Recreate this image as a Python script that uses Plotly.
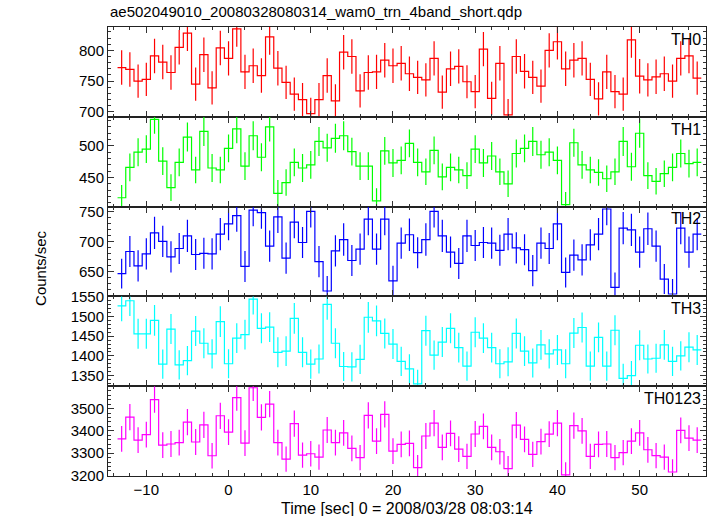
import plotly.graph_objects as go

# ---------------- data (1-s bins, centres in seconds) ----------------
time_sec = list(range(-13, 58))
bin_width = 1.0

TH0 = [772, 769, 750, 753, 791, 781, 764, 805, 828, 745, 793, 739, 804, 787, 835, 765, 775, 759,
       822, 771, 748, 729, 720, 697, 720, 759, 718, 797, 790, 734, 764, 765, 784, 775, 779, 762,
       756, 752, 787, 732, 770, 774, 749, 733, 802, 722, 779, 695, 790, 766, 756, 742, 800, 814,
       770, 784, 787, 753, 721, 765, 733, 729, 817, 758, 752, 757, 762, 750, 787, 791, 755]
TH0_err = [28, 28, 27, 27, 28, 28, 28, 28, 29, 27, 28, 27, 28, 28, 29, 28, 28, 28,
           29, 28, 27, 27, 27, 26, 27, 28, 27, 28, 28, 27, 28, 28, 28, 28, 28, 28,
           27, 27, 28, 27, 28, 28, 27, 27, 28, 27, 28, 26, 28, 28, 27, 27, 28, 29,
           28, 28, 28, 27, 27, 28, 27, 27, 29, 28, 27, 28, 28, 27, 28, 28, 27]

TH1 = [418, 466, 490, 495, 542, 476, 434, 474, 514, 462, 523, 465, 462, 496, 527, 468, 516, 482,
       530, 425, 442, 474, 465, 470, 507, 497, 512, 516, 491, 468, 468, 413, 492, 473, 477, 504,
       474, 459, 493, 451, 466, 462, 453, 495, 473, 484, 459, 440, 488, 496, 507, 486, 490, 477,
       407, 505, 470, 462, 458, 448, 459, 507, 467, 520, 453, 444, 456, 466, 488, 472, 474]
TH1_err = [20, 22, 22, 22, 23, 22, 21, 22, 23, 21, 23, 22, 21, 22, 23, 22, 23, 22,
           23, 21, 21, 22, 22, 22, 23, 22, 23, 23, 22, 22, 22, 20, 22, 22, 22, 22,
           22, 21, 22, 21, 22, 21, 21, 22, 22, 22, 21, 21, 22, 22, 23, 22, 22, 22,
           20, 22, 22, 21, 21, 21, 21, 23, 22, 23, 21, 21, 21, 22, 22, 22, 22]

TH2 = [646, 683, 659, 679, 714, 700, 674, 688, 709, 678, 680, 679, 712, 729, 743, 658, 752, 748,
       692, 741, 672, 732, 698, 750, 666, 617, 684, 703, 668, 687, 737, 687, 737, 634, 697, 711,
       681, 703, 750, 709, 682, 663, 709, 693, 698, 697, 685, 712, 689, 686, 651, 697, 688, 729,
       648, 677, 669, 694, 712, 754, 623, 722, 719, 682, 721, 692, 637, 612, 722, 682, 712]
TH2_err = [25, 26, 26, 26, 27, 26, 26, 26, 27, 26, 26, 26, 27, 27, 27, 26, 27, 27,
           26, 27, 26, 27, 26, 27, 26, 25, 26, 27, 26, 26, 27, 26, 27, 25, 26, 27,
           26, 27, 27, 27, 26, 26, 27, 26, 26, 26, 26, 27, 26, 26, 26, 26, 26, 27,
           25, 26, 26, 26, 27, 27, 25, 27, 27, 26, 27, 26, 25, 25, 27, 26, 27]

TH3 = [1527, 1540, 1456, 1456, 1490, 1379, 1468, 1377, 1388, 1463, 1432, 1405, 1487, 1380, 1445,
       1454, 1544, 1470, 1473, 1409, 1412, 1495, 1409, 1379, 1392, 1531, 1432, 1373, 1372, 1391,
       1498, 1489, 1457, 1430, 1386, 1367, 1329, 1464, 1402, 1435, 1470, 1421, 1374, 1460, 1445,
       1421, 1380, 1385, 1457, 1412, 1382, 1428, 1405, 1415, 1380, 1458, 1472, 1374, 1447, 1374,
       1465, 1343, 1350, 1427, 1392, 1394, 1428, 1386, 1400, 1422, 1415]
TH3_err = [39, 39, 38, 38, 39, 37, 38, 37, 37, 38, 38, 37, 39, 37, 38,
           38, 39, 38, 38, 38, 38, 39, 38, 37, 37, 39, 38, 37, 37, 37,
           39, 39, 38, 38, 37, 37, 36, 38, 37, 38, 38, 38, 37, 38, 38,
           38, 37, 37, 38, 38, 37, 38, 37, 38, 37, 38, 38, 37, 38, 37,
           38, 37, 37, 38, 37, 37, 38, 37, 37, 38, 38]

TH0123 = [3364, 3462, 3358, 3383, 3541, 3336, 3341, 3347, 3439, 3350, 3427, 3288, 3468, 3394, 3550,
          3345, 3594, 3461, 3520, 3347, 3273, 3433, 3291, 3297, 3282, 3404, 3347, 3391, 3321, 3280,
          3470, 3354, 3474, 3309, 3339, 3344, 3235, 3377, 3435, 3326, 3389, 3318, 3285, 3386, 3420,
          3326, 3306, 3230, 3426, 3362, 3294, 3352, 3385, 3435, 3202, 3424, 3400, 3285, 3339, 3341,
          3280, 3302, 3354, 3391, 3315, 3289, 3282, 3215, 3402, 3367, 3358]
TH0123_err = [58, 59, 58, 58, 60, 58, 58, 58, 59, 58, 59, 57, 59, 58, 60,
              58, 60, 59, 59, 58, 57, 59, 57, 57, 57, 58, 58, 58, 58, 57,
              59, 58, 59, 58, 58, 58, 57, 58, 59, 58, 58, 58, 57, 58, 58,
              58, 57, 57, 59, 58, 57, 58, 58, 59, 57, 59, 58, 57, 58, 58,
              57, 57, 58, 58, 58, 57, 57, 57, 58, 58, 58]

panel_names = ["TH0", "TH1", "TH2", "TH3", "TH0123"]
panel_values = [TH0, TH1, TH2, TH3, TH0123]
panel_errors = [TH0_err, TH1_err, TH2_err, TH3_err, TH0123_err]
panel_colors = ["#ff0000", "#00ff00", "#0000ff", "#00ffff", "#ff00ff"]
y_ranges = [[692, 838], [404, 546], [608, 758], [1323, 1551], [3197, 3601]]
y_ticks = [[700, 750, 800], [450, 500], [650, 700, 750], [1350, 1400, 1450, 1500, 1550],
           [3200, 3300, 3400, 3500]]
y_minor = [10, 10, 10, 10, 20]
x_range = [-14.66, 58.07]

title_text = "ae502049010_20080328080314_wam0_trn_4band_short.qdp"
x_title = "Time [sec] 0 = 2008/03/28 08:03:14"
y_title = "Counts/sec"

FONT = "Liberation Sans, Arial, Helvetica, sans-serif"

# ---------------- figure ----------------
fig = go.Figure()
n = len(panel_names)
h = 1.0 / n
layout = {}
for i in range(n):
    k = i + 1
    xs = "x" if k == 1 else f"x{k}"
    ys = "y" if k == 1 else f"y{k}"
    vals = panel_values[i]
    col = panel_colors[i]
    # step histogram over bin edges
    edges = [t - bin_width / 2 for t in time_sec] + [time_sec[-1] + bin_width / 2]
    fig.add_trace(go.Scatter(x=edges, y=vals + [vals[-1]], mode="lines",
                             line=dict(shape="hv", color=col, width=1.2),
                             xaxis=xs, yaxis=ys, showlegend=False, hoverinfo="skip"))
    fig.add_trace(go.Scatter(x=time_sec, y=vals, mode="markers",
                             marker=dict(size=1, color=col),
                             error_y=dict(type="data", array=panel_errors[i], width=0,
                                          thickness=1.2, color=col),
                             xaxis=xs, yaxis=ys, showlegend=False, hoverinfo="skip"))
    top = 1 - i * h
    bot = 1 - (i + 1) * h
    xa = dict(domain=[0, 1], anchor=ys, range=x_range, showgrid=False, zeroline=False,
              showline=True, linecolor="#222", linewidth=1, mirror="allticks",
              ticks="inside", ticklen=6, tickwidth=1.2, tickcolor="#333",
              tick0=0, dtick=10, showticklabels=(k == n),
              minor=dict(dtick=2, ticklen=3, tickwidth=1, tickcolor="#333", ticks="inside"),
              tickfont=dict(family=FONT, size=15, color="black"))
    if k > 1:
        xa["matches"] = "x"
    ya = dict(domain=[bot, top], anchor=xs, range=y_ranges[i], showgrid=False, zeroline=False,
              showline=True, linecolor="#222", linewidth=1, mirror="allticks",
              ticks="inside", ticklen=6, tickwidth=1.2, tickcolor="#333",
              tickvals=y_ticks[i],
              minor=dict(dtick=y_minor[i], tick0=0, ticklen=3, tickwidth=1, tickcolor="#333",
                         ticks="inside"),
              tickfont=dict(family=FONT, size=15, color="black"))
    layout["xaxis" if k == 1 else f"xaxis{k}"] = xa
    layout["yaxis" if k == 1 else f"yaxis{k}"] = ya

annotations = []
for i in range(n):
    k = i + 1
    annotations.append(dict(text=panel_names[i],
                            xref=("x" if k == 1 else f"x{k}") + " domain",
                            yref=("y" if k == 1 else f"y{k}") + " domain",
                            x=0.995, y=0.98, xanchor="right", yanchor="top", showarrow=False,
                            font=dict(family=FONT, size=16, color="black")))
annotations.append(dict(text=title_text, xref="paper", yref="paper", x=0, y=1.035,
                        xanchor="left", yanchor="middle", showarrow=False,
                        font=dict(family=FONT, size=15, color="black")))
annotations.append(dict(text=x_title, xref="paper", yref="paper", x=0.5, y=-0.072,
                        xanchor="center", yanchor="middle", showarrow=False,
                        font=dict(family=FONT, size=16, color="black")))
annotations.append(dict(text=y_title, xref="paper", yref="paper", x=-0.114, y=0.463,
                        xanchor="center", yanchor="middle", textangle=-90, showarrow=False,
                        font=dict(family=FONT, size=15, color="black")))

fig.update_layout(width=717, height=516, margin=dict(l=108, r=11, t=27, b=40),
                  paper_bgcolor="white", plot_bgcolor="white",
                  annotations=annotations, **layout)

fig.write_html("out.html", config={"displayModeBar": False},
               post_script="document.body.style.margin='0';document.body.style.overflow='hidden';")
